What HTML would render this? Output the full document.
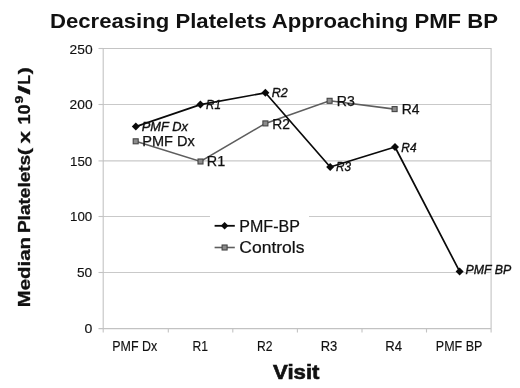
<!DOCTYPE html>
<html><head><meta charset="utf-8">
<style>
html,body{margin:0;padding:0;background:#fff;}
body{width:520px;height:388px;overflow:hidden;font-family:"Liberation Sans",sans-serif;}
svg{display:block;filter:grayscale(1);}
text{font-family:"Liberation Sans",sans-serif;}
</style></head><body>
<svg width="520" height="388" viewBox="0 0 520 388">
<rect width="520" height="388" fill="#fff"/>
<!-- gridlines -->
<g stroke="#c9c9c9" stroke-width="1.1" fill="none">
<line x1="103" y1="104.5" x2="491" y2="104.5"/>
<line x1="103" y1="160.9" x2="491" y2="160.9"/>
<line x1="103" y1="216.5" x2="491" y2="216.5"/>
<line x1="103" y1="272.5" x2="491" y2="272.5"/>
</g>
<!-- plot border -->
<g stroke="#c3c3c3" stroke-width="1.1" fill="none">
<line x1="103" y1="48.5" x2="491" y2="48.5" stroke="#c4c4c4"/>
<line x1="491.1" y1="48" x2="491.1" y2="332.5"/>
<line x1="103.2" y1="48" x2="103.2" y2="332.5"/>
<line x1="98.5" y1="328.6" x2="491" y2="328.6" stroke="#c2c2c2"/>
<line x1="168.3" y1="328.6" x2="168.3" y2="332.5"/>
<line x1="232.8" y1="328.6" x2="232.8" y2="332.5"/>
<line x1="297.4" y1="328.6" x2="297.4" y2="332.5"/>
<line x1="362" y1="328.6" x2="362" y2="332.5"/>
<line x1="426.5" y1="328.6" x2="426.5" y2="332.5"/>
<line x1="98.5" y1="48.5" x2="103.2" y2="48.5"/>
<line x1="98.5" y1="104.5" x2="103.2" y2="104.5"/>
<line x1="98.5" y1="160.9" x2="103.2" y2="160.9"/>
<line x1="98.5" y1="216.5" x2="103.2" y2="216.5"/>
<line x1="98.5" y1="272.5" x2="103.2" y2="272.5"/>
</g>
<!-- legend bg -->
<rect x="210" y="210" width="99" height="52" fill="#fff"/>
<!-- gray series -->
<polyline points="135.7,141.3 200.5,161.5 265.4,123.4 329.6,100.8 394.6,109.1" fill="none" stroke="#5e5e5e" stroke-width="1.6"/>
<g fill="#8c8c8c" stroke="#444" stroke-width="1.1">
<rect x="133.2" y="138.8" width="5" height="5"/>
<rect x="198" y="159" width="5" height="5"/>
<rect x="262.9" y="120.9" width="5" height="5"/>
<rect x="327.1" y="98.3" width="5" height="5"/>
<rect x="392.1" y="106.6" width="5" height="5"/>
</g>
<!-- black series -->
<polyline points="135.8,126.6 200.4,104.6 265.4,92.8 330.2,167 395,147 459.6,271.4" fill="none" stroke="#0a0a0a" stroke-width="1.7" stroke-linejoin="round"/>
<g fill="#0a0a0a">
<path d="M135.8 122.6l4 4-4 4-4-4z"/>
<path d="M200.4 100.6l4 4-4 4-4-4z"/>
<path d="M265.4 88.8l4 4-4 4-4-4z"/>
<path d="M330.2 163l4 4-4 4-4-4z"/>
<path d="M395 143l4 4-4 4-4-4z"/>
<path d="M459.6 267.4l4 4-4 4-4-4z"/>
</g>
<!-- title -->
<text x="50" y="28.2" font-size="21" font-weight="bold" fill="#111" textLength="448" lengthAdjust="spacingAndGlyphs">Decreasing Platelets Approaching PMF BP</text>
<!-- y tick labels -->
<g font-size="12.9" fill="#111" stroke="#111" stroke-width="0.15">
<text x="69.6" y="53.6" textLength="23" lengthAdjust="spacingAndGlyphs">250</text>
<text x="69.6" y="109.2" textLength="23" lengthAdjust="spacingAndGlyphs">200</text>
<text x="70" y="165.6" textLength="22.2" lengthAdjust="spacingAndGlyphs">150</text>
<text x="70" y="221.2" textLength="22.2" lengthAdjust="spacingAndGlyphs">100</text>
<text x="76.9" y="277.2" textLength="15.2" lengthAdjust="spacingAndGlyphs">50</text>
<text x="84.4" y="333.2" textLength="7.8" lengthAdjust="spacingAndGlyphs">0</text>
</g>
<!-- x tick labels -->
<g font-size="14" fill="#111" stroke="#111" stroke-width="0.15">
<text x="112.3" y="351.2" textLength="45" lengthAdjust="spacingAndGlyphs">PMF Dx</text>
<text x="192.5" y="351.2" textLength="15.5" lengthAdjust="spacingAndGlyphs">R1</text>
<text x="257" y="351.2" textLength="15.5" lengthAdjust="spacingAndGlyphs">R2</text>
<text x="320.7" y="351.2" textLength="16.6" lengthAdjust="spacingAndGlyphs">R3</text>
<text x="385.3" y="351.2" textLength="16.8" lengthAdjust="spacingAndGlyphs">R4</text>
<text x="435.8" y="351.2" textLength="46.6" lengthAdjust="spacingAndGlyphs">PMF BP</text>
</g>
<!-- Visit -->
<text x="273" y="378.6" font-size="19.4" font-weight="bold" fill="#111" stroke="#111" stroke-width="0.6" textLength="46.5" lengthAdjust="spacingAndGlyphs">Visit</text>
<!-- y title -->
<g font-size="15.6" font-weight="bold" fill="#111" stroke="#111" stroke-width="0.3">
<text transform="translate(29.6,307.2) rotate(-90)" textLength="70.2" lengthAdjust="spacingAndGlyphs">Median</text>
<text transform="translate(29.6,233.1) rotate(-90)" textLength="78.3" lengthAdjust="spacingAndGlyphs">Platelets</text>
<text transform="translate(29.6,155.3) rotate(-90)" textLength="7.4" lengthAdjust="spacingAndGlyphs">(</text>
<text transform="translate(29.6,143.6) rotate(-90)" textLength="12.4" lengthAdjust="spacingAndGlyphs">x</text>
<text transform="translate(29.7,124.6) rotate(-90)" textLength="20" lengthAdjust="spacingAndGlyphs">10</text>
<text transform="translate(22.5,103.5) rotate(-90)" font-size="11.6" textLength="7.8" lengthAdjust="spacingAndGlyphs">9</text>
<text transform="translate(29.7,94.8) rotate(-90)" textLength="9.6" lengthAdjust="spacingAndGlyphs">/</text>
<text transform="translate(29.7,84.4) rotate(-90)" textLength="9.6" lengthAdjust="spacingAndGlyphs">L</text>
<text transform="translate(29.7,74.2) rotate(-90)" textLength="7" lengthAdjust="spacingAndGlyphs">)</text>
</g>
<!-- italic labels black -->
<g font-size="12.4" font-style="italic" fill="#111" stroke="#111" stroke-width="0.35">
<text x="141.8" y="130.6" textLength="46" lengthAdjust="spacingAndGlyphs">PMF Dx</text>
<text x="206" y="109" textLength="15" lengthAdjust="spacingAndGlyphs">R1</text>
<text x="271.8" y="97" textLength="16" lengthAdjust="spacingAndGlyphs">R2</text>
<text x="336" y="171.4" textLength="15" lengthAdjust="spacingAndGlyphs">R3</text>
<text x="401.3" y="151.6" textLength="15.2" lengthAdjust="spacingAndGlyphs">R4</text>
<text x="465.5" y="274.3" textLength="45.7" lengthAdjust="spacingAndGlyphs">PMF BP</text>
</g>
<!-- gray series labels -->
<g font-size="14.2" fill="#111" stroke="#111" stroke-width="0.25">
<text x="142.3" y="145.7" textLength="52.5" lengthAdjust="spacingAndGlyphs">PMF Dx</text>
<text x="206.8" y="166" textLength="18.4" lengthAdjust="spacingAndGlyphs">R1</text>
<text x="272.3" y="128.6" textLength="17.7" lengthAdjust="spacingAndGlyphs">R2</text>
<text x="336.8" y="105.6" textLength="18" lengthAdjust="spacingAndGlyphs">R3</text>
<text x="401.7" y="113.8" textLength="17.8" lengthAdjust="spacingAndGlyphs">R4</text>
</g>
<!-- legend -->
<line x1="214.6" y1="225.8" x2="234.8" y2="225.8" stroke="#0a0a0a" stroke-width="1.8"/>
<path d="M224.6 222l3.8 3.8-3.8 3.8-3.8-3.8z" fill="#0a0a0a"/>
<line x1="214.6" y1="247.5" x2="234.8" y2="247.5" stroke="#5e5e5e" stroke-width="1.6"/>
<rect x="222.1" y="245" width="5" height="5" fill="#8c8c8c" stroke="#444" stroke-width="1.1"/>
<g font-size="15.6" fill="#111" stroke="#111" stroke-width="0.2">
<text x="239.3" y="231.6" textLength="60.6" lengthAdjust="spacingAndGlyphs">PMF-BP</text>
<text x="239.3" y="253" textLength="65.2" lengthAdjust="spacingAndGlyphs">Controls</text>
</g>
</svg>
</body></html>
